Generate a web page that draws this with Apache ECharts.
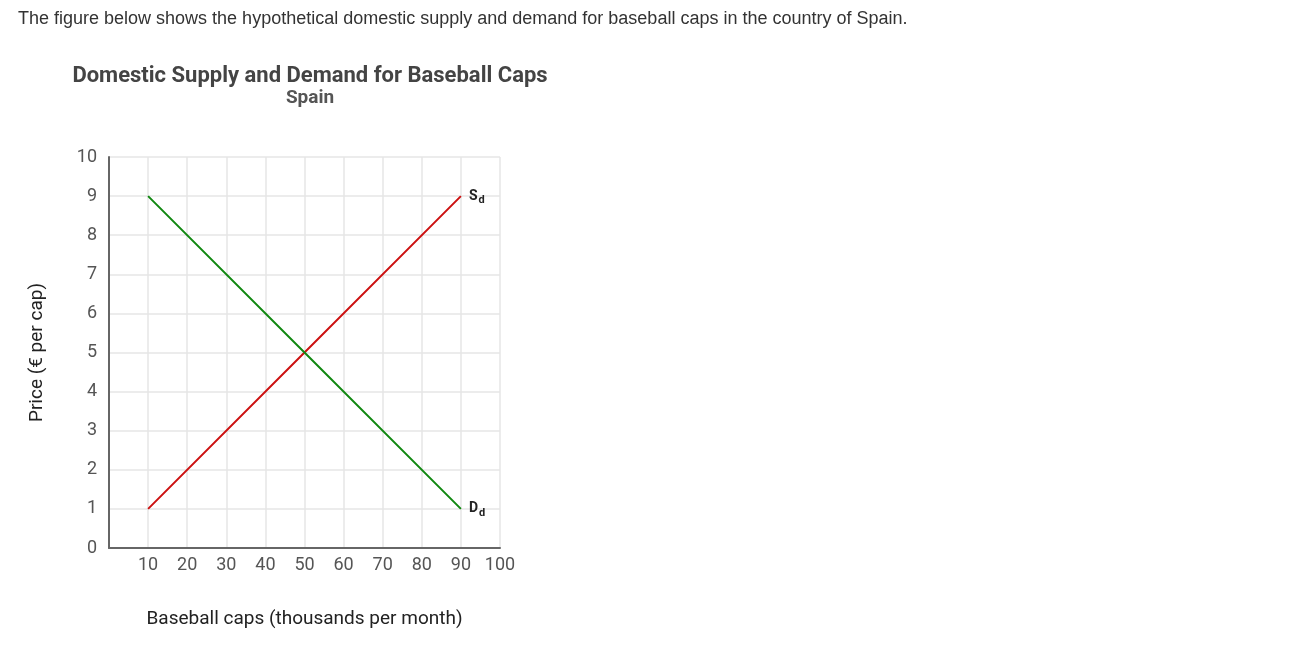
<!DOCTYPE html>
<html lang="en">
<head>
<meta charset="UTF-8">
<title>Domestic Supply and Demand for Baseball Caps</title>
<style>
    *{margin:0;padding:0;box-sizing:border-box;}
    html, body{height:100%;width:100%;background:#fff;}
    #intro{position:absolute;left:18px;top:8px;font:18px "Liberation Sans", Arial, sans-serif;color:#333;}
    #myChart{position:absolute;left:0;top:0;width:1306px;height:655px;}
</style>
</head>
<body>
<div id="myChart"></div>
<div id="intro">The figure below shows the hypothetical domestic supply and demand for baseball caps in the country of Spain.</div>
<script src="https://cdn.jsdelivr.net/npm/echarts@6/dist/echarts.min.js"></script>
<script>
    var quantity = [10, 50, 90];
    var supplyPrice = [1, 5, 9];
    var demandPrice = [9, 5, 1];
    var supplyName = 'S';
    var demandName = 'D';

    function pts(xs, ys, name) {
        return xs.map(function (x, i) {
            var p = {value: [x, ys[i]]};
            if (i === xs.length - 1) {
                p.label = {
                    show: true, position: 'right', distance: 8,
                    formatter: '{a|' + name + '}{b|d}',
                    rich: {
                        a: {fontSize: 14, fontWeight: 'bold', color: '#222', fontFamily: 'Roboto'},
                        b: {fontSize: 11, fontWeight: 'bold', color: '#222', fontFamily: 'Roboto', padding: [9, 0, 0, 1]}
                    }
                };
            }
            return p;
        });
    }

    var myChart = echarts.init(document.getElementById('myChart'));
    var option = {
        textStyle: {fontFamily: 'Roboto'},
        title: [
            {text: 'Domestic Supply and Demand for Baseball Caps', left: 305, top: 60, textAlign: 'center',
             textStyle: {fontSize: 22, fontWeight: 'bold', color: '#444', fontFamily: 'Roboto'}},
            {text: 'Spain', left: 305, top: 84, textAlign: 'center',
             textStyle: {fontSize: 19, fontWeight: 'bold', color: '#555', fontFamily: 'Roboto'}}
        ],
        grid: {left: 109, right: 806, top: 157, bottom: 107},
        xAxis: {
            type: 'value', min: 0, max: 100, interval: 10,
            name: 'Baseball caps (thousands per month)', nameLocation: 'middle', nameGap: 62,
            nameTextStyle: {fontSize: 19, color: '#222', fontFamily: 'Roboto'},
            axisLine: {show: true, lineStyle: {color: '#666', width: 2}},
            axisTick: {show: false},
            axisLabel: {fontSize: 18, color: '#555', margin: 8,
                formatter: function (v) { return v === 0 ? '' : v; }},
            splitLine: {show: true, lineStyle: {color: '#e6e6e6', width: 1.5}}
        },
        yAxis: {
            type: 'value', min: 0, max: 10, interval: 1,
            name: 'Price (€ per cap)', nameLocation: 'middle', nameGap: 62,
            nameTextStyle: {fontSize: 19, color: '#222', fontFamily: 'Roboto'},
            axisLine: {show: true, lineStyle: {color: '#666', width: 2}},
            axisTick: {show: false},
            axisLabel: {fontSize: 18, color: '#555', margin: 12},
            splitLine: {show: true, lineStyle: {color: '#e6e6e6', width: 1.5}}
        },
        series: [
            {type: 'line', name: 'Supply', data: pts(quantity, supplyPrice, supplyName),
             symbol: 'circle', symbolSize: 0.1, lineStyle: {color: '#cc1111', width: 2}, itemStyle: {color: '#cc1111'}, animation: false},
            {type: 'line', name: 'Demand', data: pts(quantity, demandPrice, demandName),
             symbol: 'circle', symbolSize: 0.1, lineStyle: {color: '#118811', width: 2}, itemStyle: {color: '#118811'}, animation: false}
        ]
    };
    myChart.setOption(option);
</script>
</body>
</html>
